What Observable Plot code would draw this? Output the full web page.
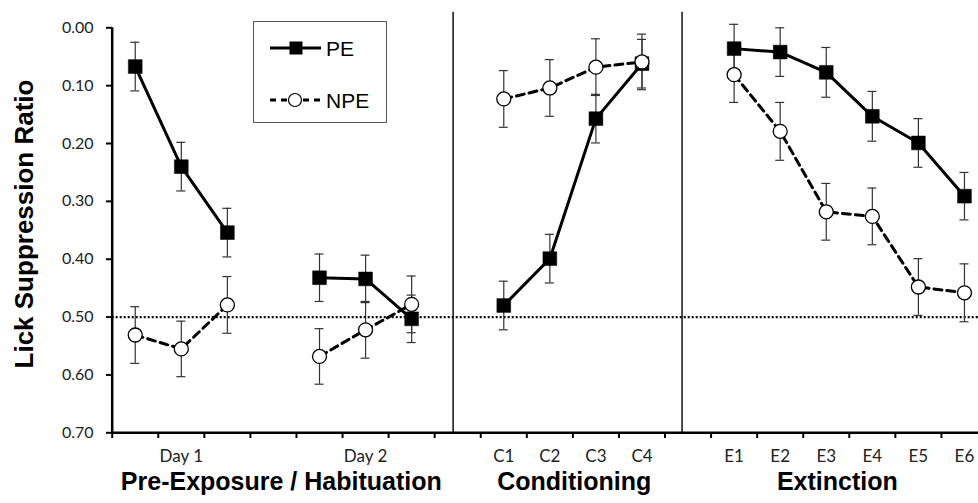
<!DOCTYPE html>
<html><head><meta charset="utf-8">
<script src="https://cdn.jsdelivr.net/npm/d3@7"></script>
<script src="https://cdn.jsdelivr.net/npm/@observablehq/plot@0.6"></script>
<style>
body{margin:0;background:#fff;}
#wrap{position:relative;width:978px;height:503px;overflow:hidden;background:#fff;}
#legend{position:absolute;left:253px;top:21px;width:134px;height:102px;border:1.3px solid #555;background:#fff;box-sizing:border-box;}
#legend svg{position:absolute;left:0;top:0;overflow:visible;}
</style></head><body><div id="wrap"><div id="legend"></div></div>
<script>
// ---- data ----
const sessions = ["D1-1","D1-2","D1-3","D2-1","D2-2","D2-3","C1","C2","C3","C4","E1","E2","E3","E4","E5","E6"];
const slots    = [0,1,2,4,5,6,8,9,10,11,13,14,15,16,17,18];
const phases   = ["Day 1","Day 1","Day 1","Day 2","Day 2","Day 2","Cond","Cond","Cond","Cond","Ext","Ext","Ext","Ext","Ext","Ext"];
const peMean   = [0.067,0.240,0.354,0.432,0.434,0.503,0.480,0.399,0.157,0.062,0.036,0.042,0.077,0.153,0.199,0.291];
const peSem    = [0.042,0.042,0.042,0.041,0.041,0.041,0.042,0.042,0.042,0.042,0.042,0.042,0.043,0.043,0.042,0.041];
const npeMean  = [0.531,0.555,0.479,0.568,0.522,0.478,0.123,0.104,0.068,0.059,0.081,0.179,0.318,0.326,0.448,0.458];
const npeSem   = [0.049,0.048,0.049,0.048,0.049,0.049,0.049,0.049,0.049,0.048,0.048,0.050,0.049,0.049,0.049,0.050];
const yTicks   = [0,0.1,0.2,0.3,0.4,0.5,0.6,0.7];
const xTickBounds = [-0.5,0.5,1.5,2.5,3.5,4.5,5.5,6.5,7.5,8.5,9.5,10.5,11.5,12.5,13.5,14.5,15.5,16.5,17.5,18.5];
const xLabelSlots = [1,5,8,9,10,11,13,14,15,16,17,18];
const xLabelTexts = ["Day 1","Day 2","C1","C2","C3","C4","E1","E2","E3","E4","E5","E6"];
const groupNames  = ["Pre-Exposure / Habituation","Conditioning","Extinction"];
const groupCenters = [3.17,9.53,15.24];
const separators  = [6.9,11.87];
const chanceLevel = 0.5;
const yTitle = "Lick Suppression Ratio";

// ---- tables ----
const pe  = sessions.map((s,i)=>({session:s, slot:slots[i], phase:phases[i], mean:peMean[i], sem:peSem[i]}));
const npe = sessions.map((s,i)=>({session:s, slot:slots[i], phase:phases[i], mean:npeMean[i], sem:npeSem[i]}));
const caps = [...pe, ...npe].flatMap(d=>[{slot:d.slot, y:d.mean-d.sem},{slot:d.slot, y:d.mean+d.sem}]);
const labelMap = new Map(xLabelSlots.map((s,i)=>[s, xLabelTexts[i]]));
const groups = groupNames.map((n,i)=>({name:n, center:groupCenters[i]}));

const boldFont = "Liberation Sans, Arial, sans-serif";

const chart = Plot.plot({
  width: 978, height: 503,
  marginLeft: 112, marginTop: 27, marginBottom: 71, marginRight: 0,
  x: {domain: [-0.5, 18.5], range: [111.7, 987], axis: null},
  y: {domain: [0, 0.7], range: [27.3, 432.3], axis: null},
  style: {fontFamily: "Lato, sans-serif", overflow: "visible", background: "transparent"},
  marks: [
    Plot.ruleY([chanceLevel], {x1: -0.5, x2: 18.5, stroke: "#000", strokeWidth: 2.4, strokeDasharray: "2,2"}),
    Plot.ruleX(separators, {y1: -0.027, y2: 0.7, stroke: "#111", strokeWidth: 1.5}),
    // error bars
    Plot.ruleX([...pe, ...npe], {x: "slot", y1: d => d.mean - d.sem, y2: d => d.mean + d.sem, stroke: "#333", strokeWidth: 1.2}),
    Plot.ruleY(caps, {y: "y", x1: "slot", x2: "slot", insetLeft: -4.5, insetRight: -4.5, stroke: "#333", strokeWidth: 1.2}),
    // lines
    Plot.line(pe, {x: "slot", y: "mean", z: "phase", stroke: "#000", strokeWidth: 3}),
    Plot.line(npe, {x: "slot", y: "mean", z: "phase", stroke: "#000", strokeWidth: 3, strokeDasharray: "8,5"}),
    // markers
    Plot.dot(pe, {x: "slot", y: "mean", symbol: "square", r: 7.8, fill: "#000", stroke: "#000", strokeWidth: 0.5}),
    Plot.dot(npe, {x: "slot", y: "mean", symbol: "circle", r: 7, fill: "#fff", stroke: "#000", strokeWidth: 1.3}),
    // axes lines
    Plot.ruleX([-0.5], {y1: 0, y2: 0.7, stroke: "#000", strokeWidth: 2.5}),
    Plot.ruleY([0.7], {x1: -0.5, x2: 18.5, stroke: "#000", strokeWidth: 2.5}),
    Plot.axisY({ticks: yTicks, tickFormat: d3.format(".2f"), tickSize: 6, tickPadding: 13, fontSize: 16, strokeWidth: 2, stroke: "#000", fill: "#222", label: null}),
    Plot.axisX({ticks: xTickBounds, tickSize: 6, tickFormat: () => "", strokeWidth: 2, stroke: "#000", label: null}),
    Plot.axisX({ticks: xLabelSlots, tickSize: 0, tickPadding: 17, tickFormat: v => labelMap.get(v), fontSize: 17, fill: "#222", label: null}),
    // titles
    Plot.text(groups, {x: "center", text: "name", frameAnchor: "bottom", dy: 57, fontSize: 25, fontWeight: "bold", fontFamily: boldFont, fill: "#000"}),
    Plot.text([yTitle], {frameAnchor: "left", textAnchor: "middle", rotate: -90, dx: -88, dy: -6, fontSize: 26, fontWeight: "bold", fontFamily: boldFont, fill: "#000"})
  ]
});
const wrap = document.getElementById("wrap");
wrap.insertBefore(chart, wrap.firstChild);

// ---- legend ----
const leg = d3.select("#legend").append("svg").attr("width", 134).attr("height", 102);
const rows = [
  {label: "PE", y: 26, dash: null, sym: "square"},
  {label: "NPE", y: 78, dash: "6,5", sym: "circle"}
];
rows.forEach(r => {
  leg.append("line").attr("x1", 16).attr("x2", 67).attr("y1", r.y).attr("y2", r.y)
    .attr("stroke", "#000").attr("stroke-width", 3).attr("stroke-dasharray", r.dash);
  if (r.sym === "square") {
    leg.append("rect").attr("x", 42 - 6.5).attr("y", r.y - 6.5).attr("width", 13).attr("height", 13).attr("fill", "#000");
  } else {
    leg.append("circle").attr("cx", 41).attr("cy", r.y).attr("r", 6.5).attr("fill", "#fff").attr("stroke", "#000").attr("stroke-width", 1.2);
  }
  leg.append("text").attr("x", 72).attr("y", r.y).attr("dy", "0.36em")
    .attr("font-family", "Liberation Sans, Arial, sans-serif").attr("font-size", 21).attr("fill", "#000").text(r.label);
});
</script>
</body></html>
